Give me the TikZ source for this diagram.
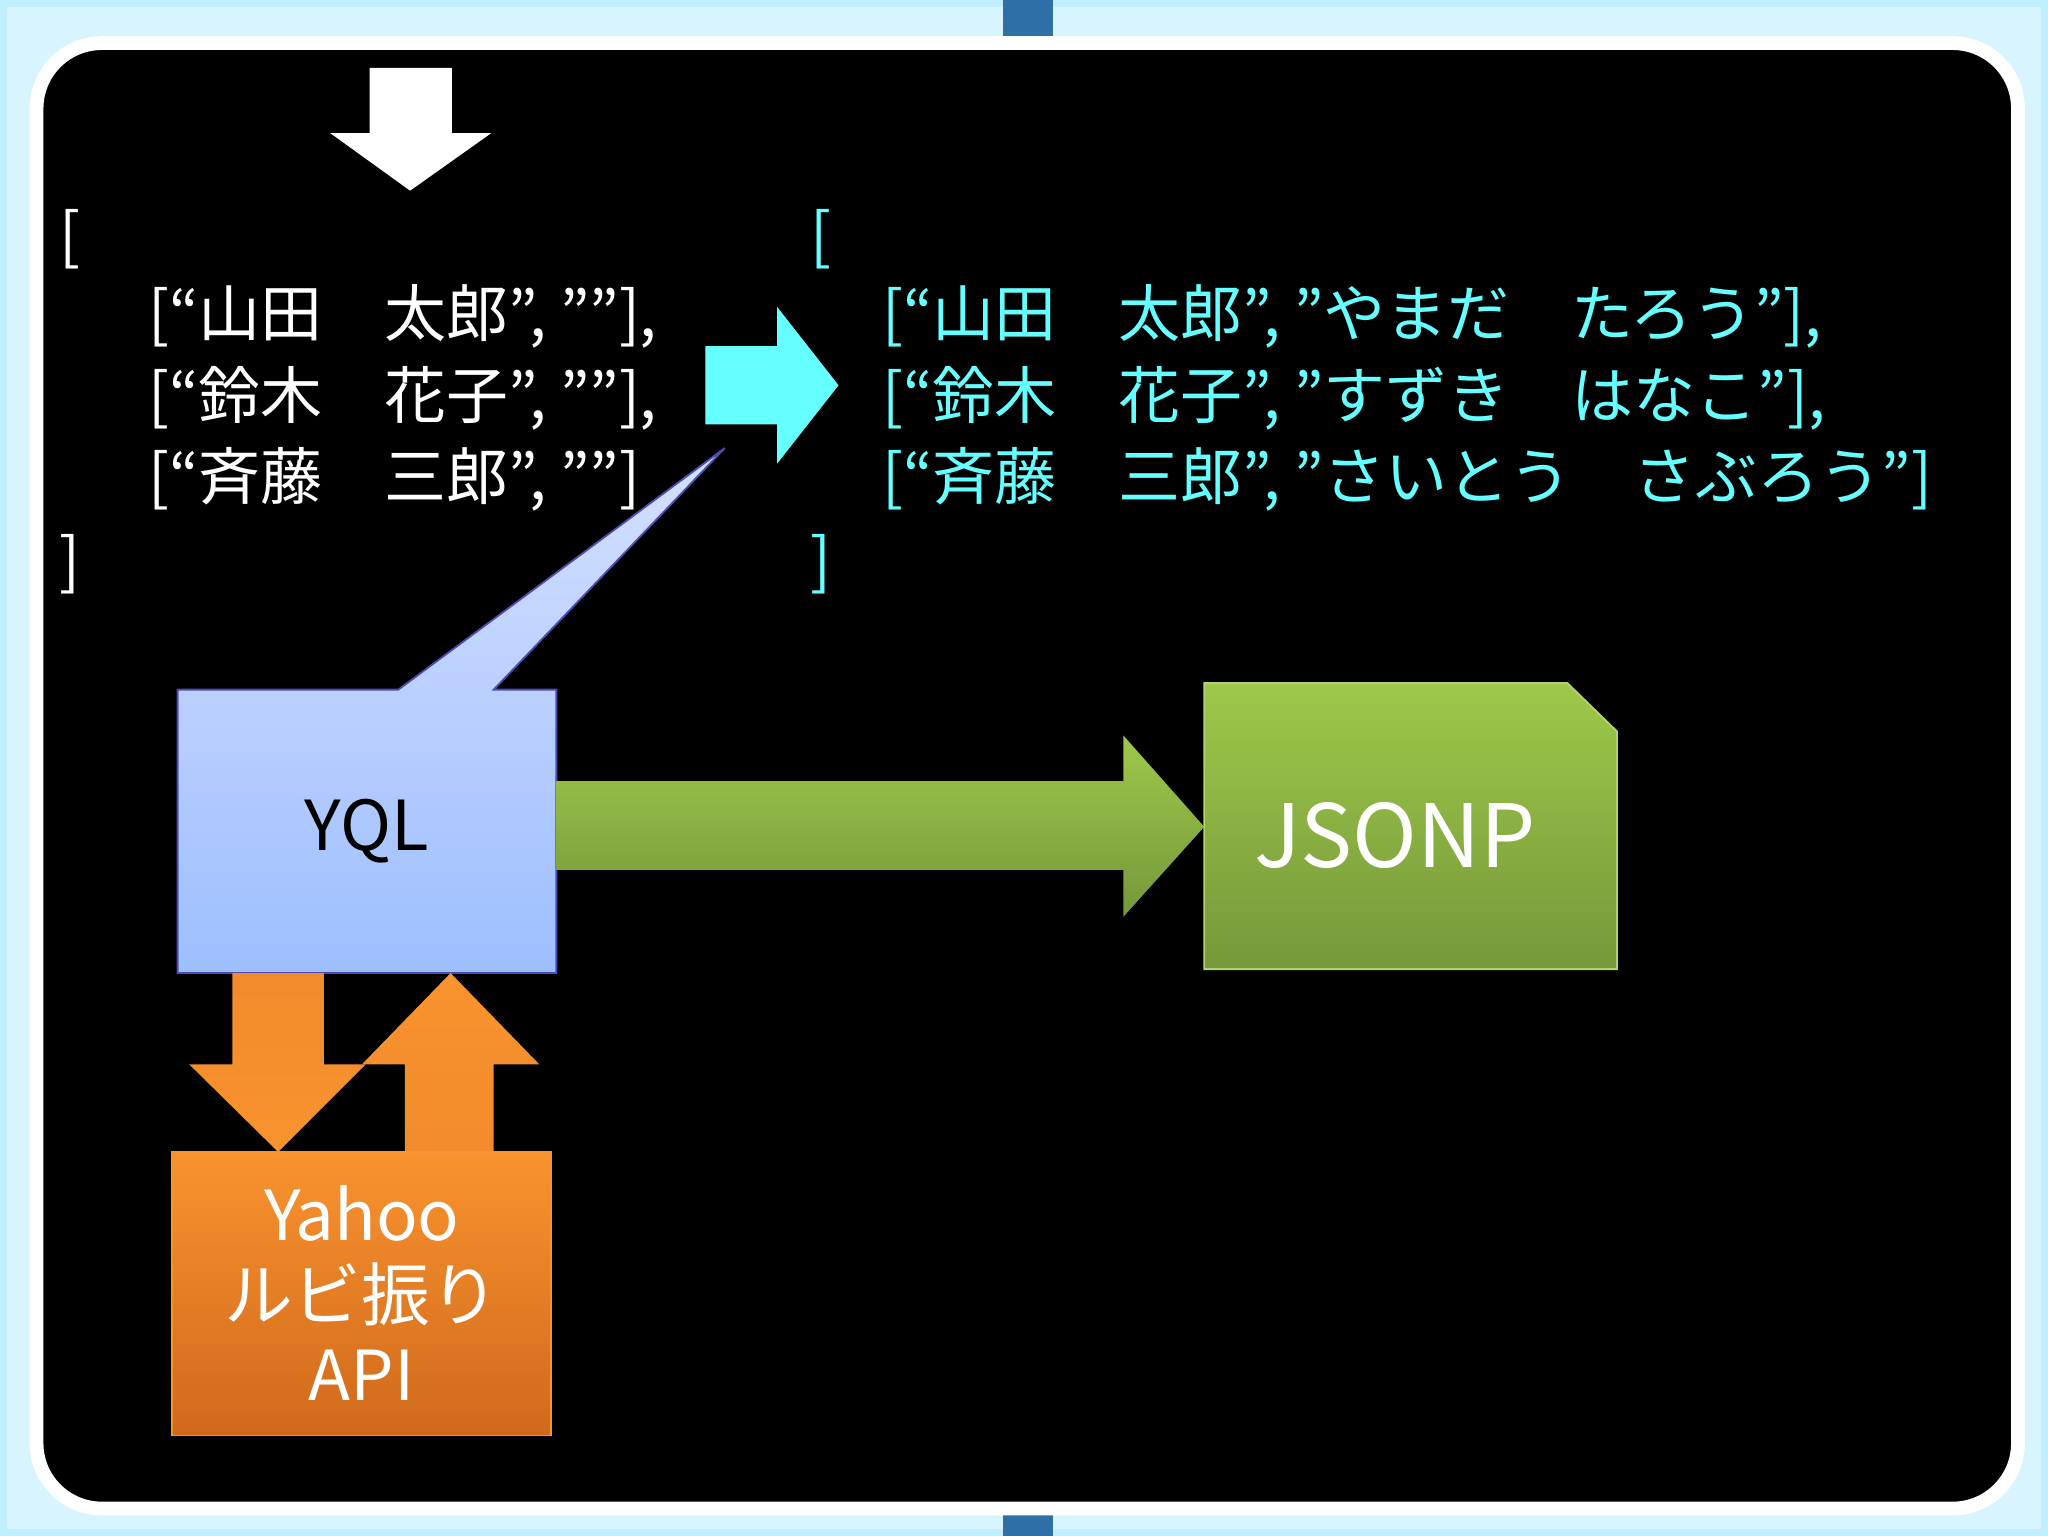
\documentclass[tikz,border=0pt]{standalone}
\usepackage{fontspec}
\setmainfont{Noto Sans CJK JP}
\usetikzlibrary{calc}
\definecolor{glow}{HTML}{BFEFFF}
\definecolor{tabblue}{HTML}{2F6FA8}
\definecolor{jcyan}{HTML}{66FFFF}
\definecolor{yqltop}{HTML}{D4E0FF}
\definecolor{yqlbot}{HTML}{9DBEFF}
\definecolor{grtop}{HTML}{9DC84A}
\definecolor{grbot}{HTML}{76983A}
\definecolor{ortop}{HTML}{F9932F}
\definecolor{orbot}{HTML}{D0691B}
\begin{document}
\begin{tikzpicture}[x=0.01cm,y=-0.01cm,
  code/.style={anchor=west,font=\fontsize{13.5}{16}\selectfont,inner sep=0pt},
  boxtxt/.style={font=\fontsize{15}{18}\selectfont,align=center}]
  \useasboundingbox (0,0) rectangle (1568,1176);
  % frame and glow
  \fill[glow] (0,0) rectangle (1568,1176);
  \fill[glow!60] (5,5) rectangle (1563,1171);
  \fill[tabblue] (768,0) rectangle (806,1176);
  \draw[white,line width=3pt,fill=black,rounded corners=0.5cm] (28,33) rectangle (1545,1155);
  % white down arrow
  \fill[white] (283,52) -- (346,52) -- (346,102) -- (376,102) -- (314,146)
    -- (253,102) -- (283,102) -- cycle;
  % left list
  \begin{scope}[white]
    \node[code] (lo) at (45,183) {[};
    \node[code] (l1) at (113,242) {[“山田\quad 太郎”, ””],};
    \node[code] (l2) at (113,305) {[“鈴木\quad 花子”, ””],};
    \node[code] (l3) at (113,367) {[“斉藤\quad 三郎”, ””]};
    \node[code] (lc) at (45,432) {]};
  \end{scope}
  % cyan arrow
  \fill[jcyan] (540,265) -- (595,265) -- (595,235) -- (642,295) -- (595,355)
    -- (595,325) -- (540,325) -- cycle;
  % right list
  \node[code,text=jcyan] (ro) at (620,183) {[};
  \node[code,text=jcyan] (r1) at (675,242) {[“山田\quad 太郎”, ”やまだ\quad たろう”],};
  \node[code,text=jcyan] (r2) at (675,305) {[“鈴木\quad 花子”, ”すずき\quad はなこ”],};
  \node[code,text=jcyan] (r3) at (675,367) {[“斉藤\quad 三郎”, ”さいとう\quad さぶろう”]};
  \node[code,text=jcyan] (rc) at (620,432) {]};
  % YQL callout
  \shade[top color=yqltop,bottom color=yqlbot,draw=blue!40!gray]
    (136,528) -- (305,528) -- (555,343) -- (378,528) -- (426,528)
    -- (426,745) -- (136,745) -- cycle;
  \node[boxtxt] (yql) at (281,636) {YQL};
  % green arrow
  \shade[top color=grtop,bottom color=grbot]
    (426,598) -- (860,598) -- (860,563) -- (922,633) -- (860,702)
    -- (860,666) -- (426,666) -- cycle;
  % JSONP
  \shade[top color=grtop,bottom color=grbot,draw=grtop!80!white]
    (922,523) -- (1200,523) -- (1238,560) -- (1238,742) -- (922,742) -- cycle;
  \node[boxtxt,white,font=\fontsize{19}{22}\selectfont] (json) at (1068,640) {JSONP};
  % orange arrows
  \shade[top color=ortop!80!orbot,bottom color=ortop]
    (178,745) -- (248,745) -- (248,815) -- (280,815) -- (213,882)
    -- (145,815) -- (178,815) -- cycle;
  \shade[top color=ortop,bottom color=ortop!80!orbot]
    (310,882) -- (378,882) -- (378,815) -- (413,815) -- (345,745)
    -- (277,815) -- (310,815) -- cycle;
  % Yahoo box
  \shade[top color=ortop,bottom color=orbot,draw=ortop]
    (132,882) rectangle (422,1099);
  \node[boxtxt,white,font=\fontsize{15}{17.5}\selectfont] (yahoo) at (277,990)
    {Yahoo\\ルビ振り\\API};
\end{tikzpicture}
\end{document}
